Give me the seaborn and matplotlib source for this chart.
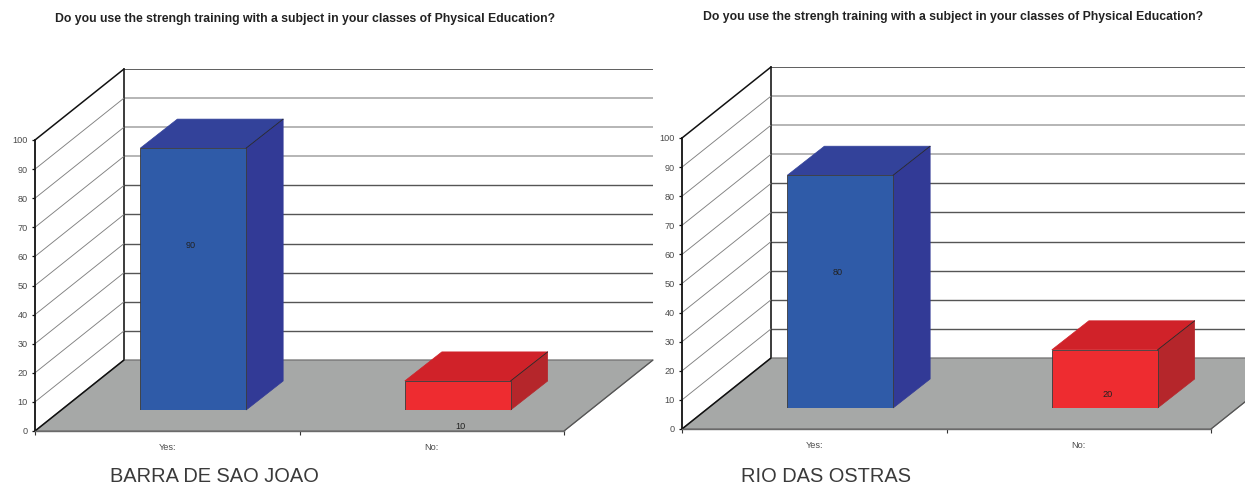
import matplotlib
matplotlib.use("Agg")
import matplotlib.pyplot as plt
import seaborn as sns
from matplotlib.patches import Polygon

# ---- data ----
categories = ["Yes:", "No:"]
values_barra = [90, 10]
values_rio = [80, 20]
value_ticks = list(range(0, 101, 10))
question = "Do you use the strengh training with a subject in your classes of Physical Education?"
name_barra = "BARRA DE SAO JOAO"
name_rio = "RIO DAS OSTRAS"

# ---- layout (pixels) ----
W, H = 1245, 484
PLOT_W, PLOT_H = 529, 291
WALL_DX, WALL_DY = 89, 71      # depth of the floor
BAR_DX, BAR_DY = 26, 21        # where the bars stand on the floor
FACE_DX, FACE_DY = 37, 29      # depth of a bar
BAR_W = 0.40
LABEL_SHIFT_Y = {90: 56.7, 80: 46.7, 20: 4.5, 10: -5.8}
LABEL_SHIFT_X = [-0.008, 0.011]

BLUE = ["#2F5BA8", "#33429A", "#323A96"]
RED = ["#EE2C30", "#D02229", "#B5262B"]
FLOOR = "#A6A8A7"
TICK_TXT = "#4a4a4a"

sns.set_theme(style="white")
plt.rcParams["font.family"] = ["Liberation Sans", "DejaVu Sans"]
fig = plt.figure(figsize=(W / 100, H / 100), dpi=100, facecolor="white")


def rect(x, y_bottom):
    return [x / W, (H - y_bottom) / H, PLOT_W / W, PLOT_H / H]


def panel(x0, y0, values, title, name, title_xy, name_xy):
    sx = 2 / PLOT_W          # data units per pixel along x (xlim span = 2)
    sy = 100 / PLOT_H        # data units per pixel along y

    # back wall
    back = fig.add_axes(rect(x0 + WALL_DX, y0 - WALL_DY), zorder=1)
    back.set_facecolor("none")
    back.set_xlim(-0.5, 1.5)
    back.set_ylim(0, 100)
    back.set_xticks([])
    back.set_yticks(value_ticks)
    back.set_yticklabels([])
    back.tick_params(length=0)
    for v in value_ticks[1:]:
        if v == 100:
            col, lw = "#333333", 1.1
        elif v >= 70:
            col, lw = "#b0b0b0", 1.3
        else:
            col, lw = "#555555", 1.0
        back.axhline(v, color=col, lw=lw, zorder=1)
    for s in ("top", "right", "bottom"):
        back.spines[s].set_visible(False)
    back.spines["left"].set_color("#1a1a1a")
    back.spines["left"].set_linewidth(1.2)

    # front plane: real axis, floor and side wall
    front = fig.add_axes(rect(x0, y0), zorder=2)
    front.set_facecolor("none")
    front.set_xlim(-0.5, 1.5)
    front.set_ylim(0, 100)
    dx, dy = WALL_DX * sx, WALL_DY * sy
    front.add_patch(Polygon([(-0.5, 0), (1.5, 0), (1.5 + dx, dy), (-0.5 + dx, dy)],
                            closed=True, fc=FLOOR, ec="#707070", lw=0.9,
                            clip_on=False, zorder=1))
    for v in value_ticks:
        dark = v in (0, 100)
        front.plot([-0.5, -0.5 + dx], [v, v + dy], clip_on=False, zorder=2,
                   color="#111111" if dark else "#808080", lw=1.1 if dark else 0.65)
    front.plot([1.5, 1.5 + dx], [0, dy], color="#555555", lw=0.8, clip_on=False, zorder=2)
    front.set_yticks(value_ticks)
    front.set_yticklabels([str(v) for v in value_ticks], fontsize=6.6, color=TICK_TXT)
    front.set_xticks([-0.5, 0.5, 1.5])
    front.set_xticklabels([])
    front.set_xticks([0, 1], minor=True)
    front.set_xticklabels(categories, minor=True, fontsize=6.6, color=TICK_TXT)
    front.tick_params(axis="y", length=2.5, width=0.9, color="#111111", pad=2.5, left=True)
    front.tick_params(axis="x", which="major", length=3, width=0.8, color="#333333", bottom=True)
    front.tick_params(axis="x", which="minor", length=0, pad=8.5)
    for s in ("top", "right"):
        front.spines[s].set_visible(False)
    front.spines["left"].set_color("#111111")
    front.spines["left"].set_linewidth(1.3)
    front.spines["bottom"].set_color("#6a6a6a")
    front.spines["bottom"].set_linewidth(1.0)

    # bars
    ax = fig.add_axes(rect(x0 + BAR_DX, y0 - BAR_DY), zorder=3)
    ax.set_facecolor("none")
    sns.barplot(x=categories, y=values, hue=categories,
                palette=[BLUE[0], RED[0]], legend=False, width=BAR_W,
                edgecolor="#3a3a3a", linewidth=0.6, saturation=1, ax=ax, zorder=4)
    ax.set_xlim(-0.5, 1.5)
    ax.set_ylim(0, 100)
    ax.axis("off")
    fx, fy = FACE_DX * sx, FACE_DY * sy
    for i, (v, cols) in enumerate(zip(values, (BLUE, RED))):
        l, r = i - BAR_W / 2, i + BAR_W / 2
        ax.add_patch(Polygon([(l, v), (r, v), (r + fx, v + fy), (l + fx, v + fy)], closed=True,
                             fc=cols[1], ec=cols[1], lw=0.5, clip_on=False, zorder=3))
        ax.add_patch(Polygon([(r, 0), (r + fx, fy), (r + fx, v + fy), (r, v)], closed=True,
                             fc=cols[2], ec=cols[2], lw=0.5, clip_on=False, zorder=3))
        ax.plot([r, r + fx], [v, v + fy], color="#2a2a2a", lw=0.6, clip_on=False, zorder=5)
        ax.text(i + LABEL_SHIFT_X[i], LABEL_SHIFT_Y[v], str(v), ha="center", va="center",
                fontsize=6.6, color="#222222", clip_on=False, zorder=6)

    fig.text(title_xy[0] / W, 1 - title_xy[1] / H, title, fontsize=8.85, fontweight="bold",
             color="#222222", ha="left", va="center")
    fig.text(name_xy[0] / W, 1 - name_xy[1] / H, name, fontsize=14.4,
             color="#3a3a3a", ha="left", va="center")


panel(35, 431, values_barra, question, name_barra, (55, 19), (110, 476))
panel(682, 429, values_rio, question, name_rio, (703, 17), (741, 476))

fig.savefig("out.png", dpi=100)
